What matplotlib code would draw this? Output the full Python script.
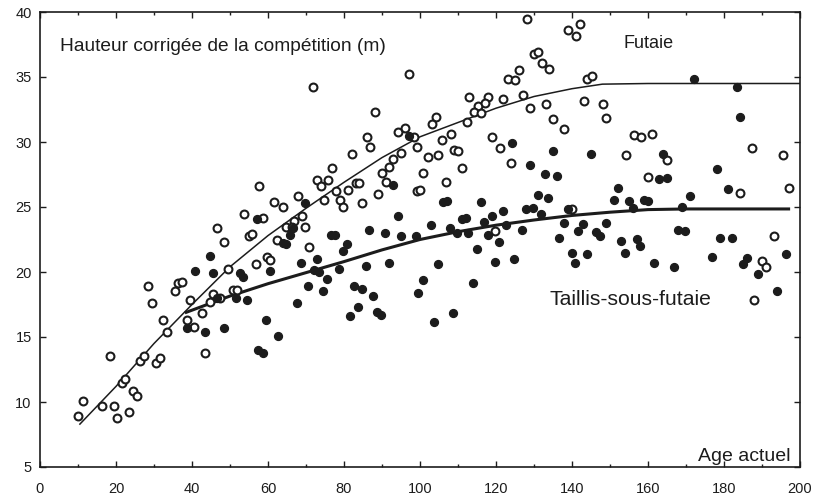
import matplotlib
matplotlib.use("Agg")
import matplotlib.pyplot as plt
from matplotlib.ticker import MultipleLocator

plt.rcParams['font.family'] = ['Liberation Sans', 'DejaVu Sans']

# Futaie (open circles): age, height
futaie_age = [10.1, 11.4, 16.2, 18.4, 19.4, 20.3, 21.5, 22.4, 23.5, 24.4, 25.4, 26.3, 27.4, 30.4, 31.5,
              33.5, 32.4, 38.6, 40.5, 43.5, 28.5, 29.4, 46.5, 48.4, 49.4, 35.5, 36.4, 37.4, 39.5, 42.6,
              44.7, 45.4, 47.4, 71.9, 97.1, 88.2, 86.1, 86.8, 82.0, 94.1, 96.1, 98.4, 99.1, 95.0, 93.0,
              91.9, 76.8, 128.2, 139.0, 141.1, 142.1, 130.1, 131.1, 132.0, 134.0, 126.1, 123.1, 125.0,
              143.9, 145.2, 113.0, 118.0, 121.9, 127.0, 143.2, 148.1, 115.2, 117.1, 114.3, 116.1, 128.9,
              133.2, 148.9, 104.1, 103.1, 112.3, 134.9, 138.0, 108.2, 105.9, 119.0, 121.1, 102.0, 104.8,
              109.0, 110.1, 123.9, 111.1, 156.3, 158.1, 161.1, 154.1, 164.9, 187.3, 195.4, 73.0, 73.9,
              75.9, 89.9, 91.1, 83.2, 84.0, 81.0, 77.9, 89.0, 99.3, 57.7, 67.8, 61.7, 63.9, 74.8, 78.9,
              79.8, 84.8, 53.8, 58.8, 68.9, 66.9, 64.7, 66.2, 69.7, 55.0, 55.7, 62.4, 70.8, 59.7, 60.5,
              56.8, 50.9, 51.9, 100.9, 106.8, 100.0, 139.9, 119.7, 159.9, 184.2, 197.2, 193.2, 189.9,
              191.1, 187.9]
futaie_h = [8.92, 10.1, 9.69, 13.54, 9.72, 8.79, 11.44, 11.79, 9.23, 10.87, 10.44, 13.13, 13.54, 12.98, 13.41,
            15.41, 16.31, 16.31, 15.79, 13.79, 18.95, 17.6, 23.36, 22.33, 20.23, 18.54, 19.13, 19.25, 17.85, 16.82,
            17.67, 18.28, 17.98, 34.25, 35.21, 32.33, 30.36, 29.59, 29.08, 30.77, 31.05, 30.41, 29.64, 29.18, 28.67,
            28.1, 27.98, 39.5, 38.6, 38.15, 39.08, 36.77, 36.95, 36.1, 35.62, 35.56, 34.85, 34.79,
            34.85, 35.1, 33.48, 33.48, 33.28, 33.59, 33.18, 32.9, 32.77, 32.98, 32.33, 32.25, 32.59,
            32.95, 31.82, 31.95, 31.38, 31.56, 31.75, 30.98, 30.62, 30.15, 30.36, 29.54, 28.87, 29.02,
            29.38, 29.33, 28.36, 28.0, 30.54, 30.36, 30.62, 29.0, 28.62, 29.52, 29.0, 27.08, 26.64,
            27.08, 27.59, 26.9, 26.82, 26.82, 26.31, 26.23, 25.98, 26.23, 26.59, 25.87, 25.36, 25.02, 25.54, 25.54,
            25.02, 25.33, 24.44, 24.13, 24.33, 23.92, 23.48, 23.48, 23.44, 22.79, 22.9, 22.46, 21.9, 21.18, 20.92,
            20.59, 18.62, 18.62, 27.59, 26.95, 26.31, 24.85, 23.18, 27.28, 26.1, 26.48, 22.77, 20.87,
            20.36, 17.85]

# Taillis-sous-futaie (filled circles): age, height
tsf_age = [38.6, 43.5, 48.3, 44.7, 40.8, 45.6, 46.5, 97.1, 124.1, 134.9, 145.0, 128.9, 172.2, 183.3, 184.2,
           164.0, 178.1, 93.0, 69.7, 57.0, 94.1, 66.7, 65.8, 64.0, 64.7, 76.6, 77.6, 86.6, 90.8, 95.0, 98.9,
           80.7, 79.8, 68.7, 72.8, 91.9, 85.8, 52.6, 53.5, 60.5, 72.2, 73.5, 78.8, 75.4, 70.6, 74.6, 82.6,
           84.7, 87.7, 51.6, 54.6, 67.7, 83.6, 88.8, 89.7, 81.6, 59.5, 99.6, 132.9, 136.0, 131.0, 133.8,
           106.0, 107.0, 116.0, 121.9, 119.0, 127.9, 129.8, 131.8, 138.9, 111.0, 112.0, 102.8, 107.9, 109.8,
           112.7, 116.9, 122.6, 117.8, 126.8, 137.9, 143.0, 141.7, 146.3, 147.4, 148.9, 136.7, 120.9, 114.9,
           139.9, 143.9, 140.8, 119.7, 124.7, 104.7, 100.9, 113.9, 108.8, 103.8, 163.0, 165.1, 152.0, 151.1,
           155.0, 156.0, 159.0, 160.1, 171.1, 181.1, 169.0, 168.0, 169.7, 152.8, 157.0, 157.9, 178.9, 182.0,
           153.9, 161.7, 166.8, 176.9, 186.1, 185.1, 189.0, 196.3, 194.0, 62.6, 57.4, 58.6]
tsf_h = [15.67, 15.36, 15.72, 21.25, 20.08, 19.9, 17.98, 30.5, 29.95, 29.28, 29.05, 28.23, 34.82, 34.25, 31.95,
         29.08, 27.9, 26.69, 25.28, 24.08, 24.31, 23.36, 22.85, 22.21, 22.13, 22.85, 22.85, 23.23, 22.98, 22.77, 22.77,
         22.15, 21.62, 20.72, 21.0, 20.72, 20.46, 19.9, 19.64, 20.08, 20.15, 19.98, 20.23, 19.46, 18.95, 18.56, 18.95,
         18.69, 18.18, 18.02, 17.85, 17.59, 17.33, 16.95, 16.69, 16.62, 16.31, 18.36, 27.52, 27.38, 25.92, 25.67,
         25.41, 25.46, 25.41, 24.72, 24.33, 24.82, 24.9, 24.44, 24.82, 24.08, 24.13, 23.62, 23.41, 22.98,
         22.98, 23.82, 23.62, 22.85, 23.23, 23.75, 23.67, 23.15, 23.1, 22.77, 23.75, 22.59, 22.28, 21.75,
         21.44, 21.38, 20.67, 20.79, 21.0, 20.59, 19.38, 19.18, 16.87, 16.13, 27.13, 27.25, 26.44, 25.54,
         25.46, 24.95, 25.54, 25.48, 25.85, 26.38, 25.02, 23.23, 23.18, 22.38, 22.54, 22.02, 22.59, 22.59,
         21.48, 20.72, 20.41, 21.18, 21.1, 20.59, 19.82, 21.36, 18.56, 15.1, 14.0, 13.79]

# Fitted curves
futaie_curve_x = [10.5, 20, 30, 40, 50, 60, 70, 80, 90, 100, 110, 120, 130, 140, 148, 160, 170, 180, 190, 200]
futaie_curve_y = [8.3, 11.2, 14.5, 17.5, 20.4, 22.8, 24.9, 26.9, 28.8, 30.4, 31.5, 32.6, 33.5, 34.1, 34.45,
                  34.5, 34.5, 34.5, 34.5, 34.5]
tsf_curve_x = [38.5, 50, 60, 70, 80, 90, 100, 110, 120, 130, 140, 150, 160, 170, 180, 190, 197]
tsf_curve_y = [16.9, 18.15, 19.1, 19.95, 20.8, 21.7, 22.5, 23.1, 23.6, 24.0, 24.35, 24.6, 24.8, 24.85, 24.85,
               24.85, 24.85]

ink = '#1c1c1c'

fig = plt.figure(figsize=(8.18, 5.00), dpi=100)
ax = fig.add_axes([40/818, 1-467/500, (800-40)/818, (467-12)/500])

ax.plot(futaie_curve_x, futaie_curve_y, color=ink, lw=1.1, zorder=2)
ax.plot(tsf_curve_x, tsf_curve_y, color=ink, lw=2.2, zorder=2)
ax.scatter(futaie_age, futaie_h, s=32, facecolors='white', edgecolors=ink, linewidths=1.5, zorder=3)
ax.scatter(tsf_age, tsf_h, s=32, facecolors=ink, edgecolors=ink, linewidths=1.0, zorder=3)

ax.set_xlim(0, 200)
ax.set_ylim(5, 40)
ax.xaxis.set_major_locator(MultipleLocator(20))
ax.xaxis.set_minor_locator(MultipleLocator(10))
ax.yaxis.set_major_locator(MultipleLocator(5))
ax.tick_params(which='both', direction='in', top=True, right=True, colors=ink,
               labelsize=10.5, width=1.0)
ax.tick_params(which='major', length=4)
ax.tick_params(which='minor', length=2.5)
ax.tick_params(axis='x', pad=11)
ax.tick_params(axis='y', pad=6)
for s in ax.spines.values():
    s.set_color(ink)
    s.set_linewidth(1.2)

ax.text(0.026, 0.925, 'Hauteur corrigée de la compétition (m)', transform=ax.transAxes,
        fontsize=13.8, color=ink, va='center', ha='left')
ax.text(153.5, 37.55, 'Futaie', fontsize=13, color=ink, va='center', ha='left')
ax.text(134.0, 17.9, 'Taillis-sous-futaie', fontsize=15.2, color=ink, va='center', ha='left')
ax.text(0.987, 0.022, 'Age actuel', transform=ax.transAxes, fontsize=14, color=ink,
        va='center', ha='right')

fig.savefig('out.png', dpi=100)
